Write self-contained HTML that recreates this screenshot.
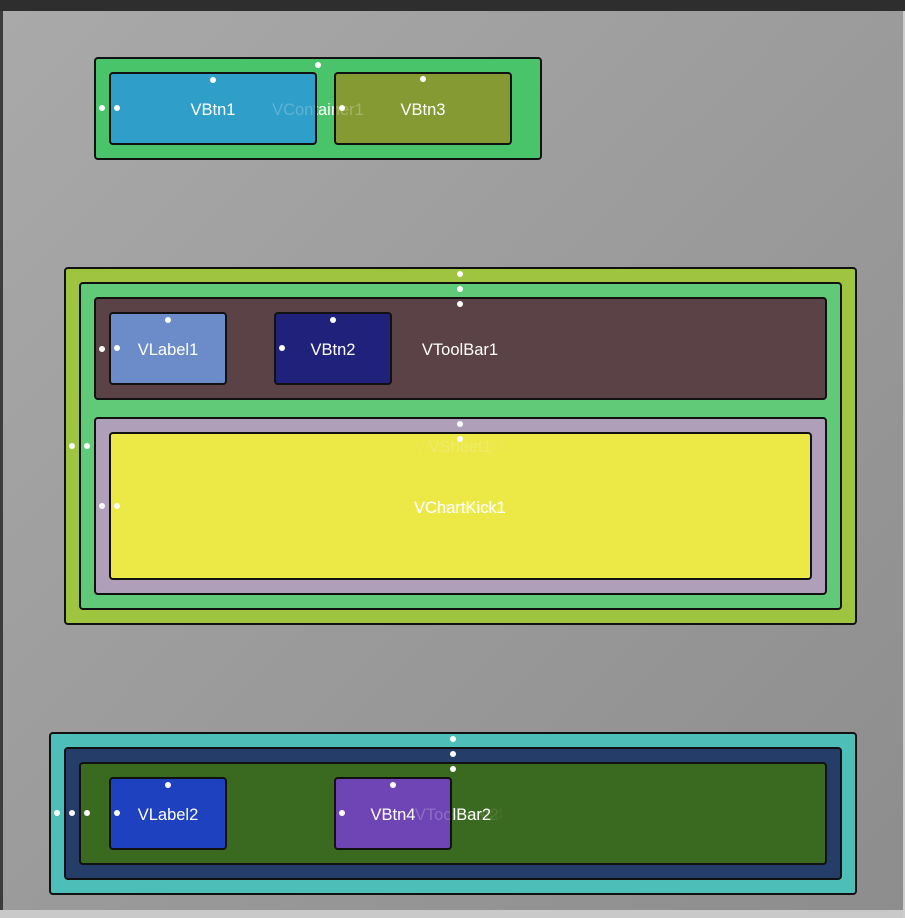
<!DOCTYPE html>
<html>
<head>
<meta charset="utf-8">
<style>
  html,body{margin:0;padding:0;}
  body{width:905px;height:918px;position:relative;overflow:hidden;background:#c9c9c9;font-family:"Segoe UI","Liberation Sans","DejaVu Sans",sans-serif;}
  .topbar{position:absolute;left:0;top:0;width:905px;height:11px;background:#2e2e2e;}
  .leftbar{position:absolute;left:0;top:11px;width:3px;height:899px;background:#3c3c3c;}
  .canvas{position:absolute;left:3px;top:11px;width:900px;height:899px;background:linear-gradient(135deg,#a9a9a9 0%,#9b9b9b 50%,#8d8d8d 100%);}
  .rstrip{position:absolute;left:903px;top:11px;width:2px;height:907px;background:#cdcdcd;}
  .b{position:absolute;box-sizing:border-box;border:2px solid #111;border-radius:4px;}
  .w{position:absolute;overflow:hidden;border-radius:3px;}
  .t{position:absolute;width:240px;height:20px;line-height:20px;text-align:center;font-size:16.5px;color:#fff;white-space:nowrap;}
  .d{position:absolute;width:6px;height:6px;border-radius:50%;background:#fff;}
</style>
</head>
<body>
<div class="topbar"></div>
<div class="leftbar"></div>
<div class="canvas"></div>
<div class="rstrip"></div>

<!-- ===== Top group: VContainer1 ===== -->
<div class="b" style="left:94px;top:57px;width:448px;height:103px;background:#4ac46b;"></div>
<div class="t" style="left:198px;top:100px;">VContainer1</div>

<div class="b" style="left:109px;top:72px;width:208px;height:73px;background:#2f9ec8;"></div>
<div class="w" style="left:111px;top:74px;width:204px;height:69px;">
  <div class="t" style="left:87px;top:26px;color:rgba(255,255,255,0.22);">VContainer1</div>
</div>
<div class="t" style="left:93px;top:100px;">VBtn1</div>

<div class="b" style="left:334px;top:72px;width:178px;height:73px;background:#869a33;"></div>
<div class="w" style="left:336px;top:74px;width:174px;height:69px;">
  <div class="t" style="left:-138px;top:26px;color:rgba(255,255,255,0.25);">VContainer1</div>
</div>
<div class="t" style="left:303px;top:100px;">VBtn3</div>

<!-- ===== Middle group ===== -->
<div class="b" style="left:64px;top:267px;width:793px;height:358px;background:#9fc540;"></div>
<div class="b" style="left:79px;top:282px;width:763px;height:328px;background:#60ca78;"></div>

<div class="b" style="left:94px;top:297px;width:733px;height:103px;background:#5b4247;"></div>
<div class="t" style="left:340px;top:340px;">VToolBar1</div>

<div class="b" style="left:109px;top:312px;width:118px;height:73px;background:#6b8bc9;"></div>
<div class="t" style="left:48px;top:340px;">VLabel1</div>

<div class="b" style="left:274px;top:312px;width:118px;height:73px;background:#1f217b;"></div>
<div class="t" style="left:213px;top:340px;">VBtn2</div>

<div class="b" style="left:94px;top:417px;width:733px;height:178px;background:#b09fb8;"></div>
<div class="w" style="left:96px;top:419px;width:729px;height:174px;">
  <div class="t" style="left:244px;top:18px;color:rgba(255,255,255,0.25);">VSheet1</div>
</div>

<div class="b" style="left:109px;top:432px;width:703px;height:148px;background:#ece846;"></div>
<div class="w" style="left:111px;top:434px;width:699px;height:144px;">
  <div class="t" style="left:229px;top:3px;color:rgba(255,255,255,0.07);">VContainer3</div>
  <div class="t" style="left:229px;top:3px;color:rgba(255,255,255,0.14);">VSheet1</div>
  <div class="t" style="left:228px;top:64px;color:rgba(255,255,255,0.22);">VContainer2</div>
</div>
<div class="t" style="left:340px;top:498px;">VChartKick1</div>

<!-- ===== Bottom group ===== -->
<div class="b" style="left:49px;top:732px;width:808px;height:163px;background:#4dbfb8;"></div>
<div class="b" style="left:64px;top:747px;width:778px;height:133px;background:#243d69;"></div>

<div class="b" style="left:79px;top:762px;width:748px;height:103px;background:#3a6a1f;"></div>
<div class="w" style="left:81px;top:764px;width:744px;height:99px;">
  <div class="t" style="left:257px;top:41px;color:rgba(255,255,255,0.05);">VContainer4</div>
  <div class="t" style="left:266px;top:41px;color:rgba(255,255,255,0.1);">VSheet2</div>
</div>
<div class="t" style="left:333px;top:805px;">VToolBar2</div>

<div class="b" style="left:109px;top:777px;width:118px;height:73px;background:#1e41bf;"></div>
<div class="t" style="left:48px;top:805px;">VLabel2</div>

<div class="b" style="left:334px;top:777px;width:118px;height:73px;background:#6f45b5;"></div>
<div class="w" style="left:336px;top:779px;width:114px;height:69px;">
  <div class="t" style="left:-3px;top:26px;color:rgba(255,255,255,0.22);">VToolBar2</div>
</div>
<div class="t" style="left:273px;top:805px;">VBtn4</div>

<!-- ===== Dots ===== -->
<div class="d" style="left:315px;top:62px;"></div>
<div class="d" style="left:99px;top:105px;"></div>
<div class="d" style="left:210px;top:77px;"></div>
<div class="d" style="left:114px;top:105px;"></div>
<div class="d" style="left:420px;top:76px;"></div>
<div class="d" style="left:339px;top:105px;"></div>

<div class="d" style="left:457px;top:271px;"></div>
<div class="d" style="left:69px;top:443px;"></div>
<div class="d" style="left:457px;top:286px;"></div>
<div class="d" style="left:84px;top:443px;"></div>
<div class="d" style="left:457px;top:301px;"></div>
<div class="d" style="left:99px;top:346px;"></div>
<div class="d" style="left:165px;top:317px;"></div>
<div class="d" style="left:114px;top:345px;"></div>
<div class="d" style="left:330px;top:317px;"></div>
<div class="d" style="left:279px;top:345px;"></div>
<div class="d" style="left:457px;top:421px;"></div>
<div class="d" style="left:99px;top:503px;"></div>
<div class="d" style="left:457px;top:436px;"></div>
<div class="d" style="left:114px;top:503px;"></div>

<div class="d" style="left:450px;top:736px;"></div>
<div class="d" style="left:54px;top:810px;"></div>
<div class="d" style="left:450px;top:751px;"></div>
<div class="d" style="left:69px;top:810px;"></div>
<div class="d" style="left:450px;top:766px;"></div>
<div class="d" style="left:84px;top:810px;"></div>
<div class="d" style="left:165px;top:782px;"></div>
<div class="d" style="left:114px;top:810px;"></div>
<div class="d" style="left:390px;top:782px;"></div>
<div class="d" style="left:339px;top:810px;"></div>
</body>
</html>
